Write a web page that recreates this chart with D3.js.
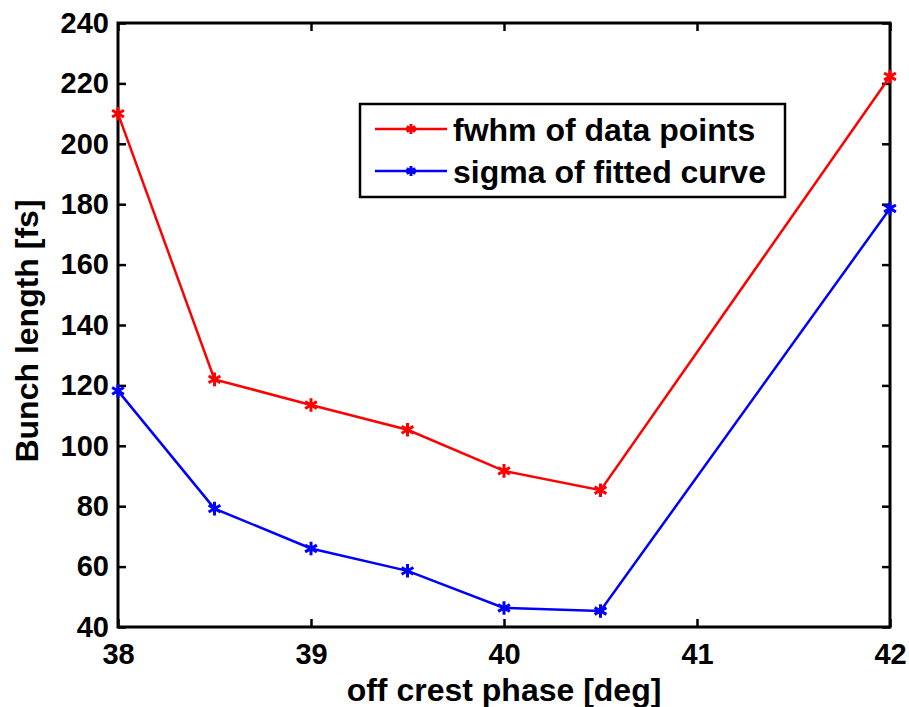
<!DOCTYPE html>
<html>
<head>
<meta charset="utf-8">
<script src="https://cdn.jsdelivr.net/npm/d3@7"></script>
<style>
  body { margin: 0; background: #fff; }
  text { font-family: "Liberation Sans", Arial, sans-serif; font-weight: bold; }
</style>
</head>
<body>
<svg></svg>
<script>
const phase = [38, 38.5, 39, 39.5, 40, 40.5, 42];
const fwhm = [210, 122, 113.5, 105.3, 91.7, 85.3, 222.3];
const sigma = [118.2, 79.2, 66, 58.6, 46.3, 45.3, 178.6];
const xTicks = [38, 39, 40, 41, 42];
const yTicks = [40, 60, 80, 100, 120, 140, 160, 180, 200, 220, 240];
const seriesNames = ['fwhm of data points', 'sigma of fitted curve'];
const seriesColors = ['#ff0000', '#0000ff'];

const svgWidth = 909;
const svgHeight = 707;
const margin = { top: 23, right: 19, bottom: 80, left: 118 };
const width = svgWidth - margin.left - margin.right;
const height = svgHeight - margin.top - margin.bottom;

const svg = d3.select('svg')
    .attr('width', svgWidth)
    .attr('height', svgHeight)
    .append('g')
    .attr('transform', `translate(${margin.left}, ${margin.top})`);

const xScale = d3.scaleLinear().domain([38, 42]).range([0, width]);
const yScale = d3.scaleLinear().domain([40, 240]).range([height, 0]);

// axes with inward ticks on all four sides
const tickLen = 8;
const styleAxis = g => {
    g.select('.domain').remove();
    g.selectAll('line').attr('stroke', '#000').attr('stroke-width', 2.5);
    g.selectAll('text').attr('fill', '#000').attr('font-size', '29px');
};

svg.append('g')
    .attr('transform', `translate(0, ${height})`)
    .call(d3.axisBottom(xScale).tickValues(xTicks).tickFormat(d3.format('d'))
        .tickSizeInner(-tickLen).tickSizeOuter(0).tickPadding(16))
    .call(styleAxis);

svg.append('g')
    .call(d3.axisTop(xScale).tickValues(xTicks).tickFormat('')
        .tickSizeInner(-tickLen).tickSizeOuter(0))
    .call(styleAxis);

svg.append('g')
    .call(d3.axisLeft(yScale).tickValues(yTicks).tickFormat(d3.format('d'))
        .tickSizeInner(-tickLen).tickSizeOuter(0).tickPadding(9))
    .call(styleAxis);

svg.append('g')
    .attr('transform', `translate(${width}, 0)`)
    .call(d3.axisRight(yScale).tickValues(yTicks).tickFormat('')
        .tickSizeInner(-tickLen).tickSizeOuter(0))
    .call(styleAxis);

svg.append('rect')
    .attr('width', width)
    .attr('height', height)
    .attr('fill', 'none')
    .attr('stroke', '#000')
    .attr('stroke-width', 3);

const line = d3.line()
    .x((d, i) => xScale(phase[i]))
    .y(d => yScale(d));

const star = d3.symbol().type(d3.symbolAsterisk).size(130);

[fwhm, sigma].forEach((vals, k) => {
    svg.append('path')
        .datum(vals)
        .attr('d', line)
        .attr('fill', 'none')
        .attr('stroke', seriesColors[k])
        .attr('stroke-width', 2.5);

    svg.selectAll(null)
        .data(vals)
        .enter()
        .append('path')
        .attr('d', star)
        .attr('transform', (d, i) => `translate(${xScale(phase[i])}, ${yScale(d)})`)
        .attr('fill', 'none')
        .attr('stroke', seriesColors[k])
        .attr('stroke-width', 3);
});

// legend
const legend = svg.append('g')
    .attr('transform', `translate(${360 - margin.left}, ${104 - margin.top})`);

legend.append('rect')
    .attr('width', 425)
    .attr('height', 93)
    .attr('fill', '#fff')
    .attr('stroke', '#000')
    .attr('stroke-width', 2.5);

seriesNames.forEach((name, k) => {
    const y = 25 + k * 42;
    legend.append('line')
        .attr('x1', 15).attr('x2', 87)
        .attr('y1', y).attr('y2', y)
        .attr('stroke', seriesColors[k])
        .attr('stroke-width', 2.5);
    legend.append('path')
        .attr('d', d3.symbol().type(d3.symbolAsterisk).size(70))
        .attr('transform', `translate(51, ${y})`)
        .attr('fill', 'none')
        .attr('stroke', seriesColors[k])
        .attr('stroke-width', 3);
    legend.append('text')
        .attr('x', 93)
        .attr('y', y)
        .attr('dy', '0.36em')
        .attr('font-size', '32px')
        .attr('fill', '#000')
        .text(name);
});

svg.append('text')
    .attr('x', width / 2)
    .attr('y', height + 74)
    .attr('text-anchor', 'middle')
    .attr('font-size', '32px')
    .attr('fill', '#000')
    .text('off crest phase [deg]');

svg.append('text')
    .attr('transform', 'rotate(-90)')
    .attr('x', -308)
    .attr('y', -80)
    .attr('text-anchor', 'middle')
    .attr('font-size', '32px')
    .attr('fill', '#000')
    .text('Bunch length [fs]');
</script>
</body>
</html>
